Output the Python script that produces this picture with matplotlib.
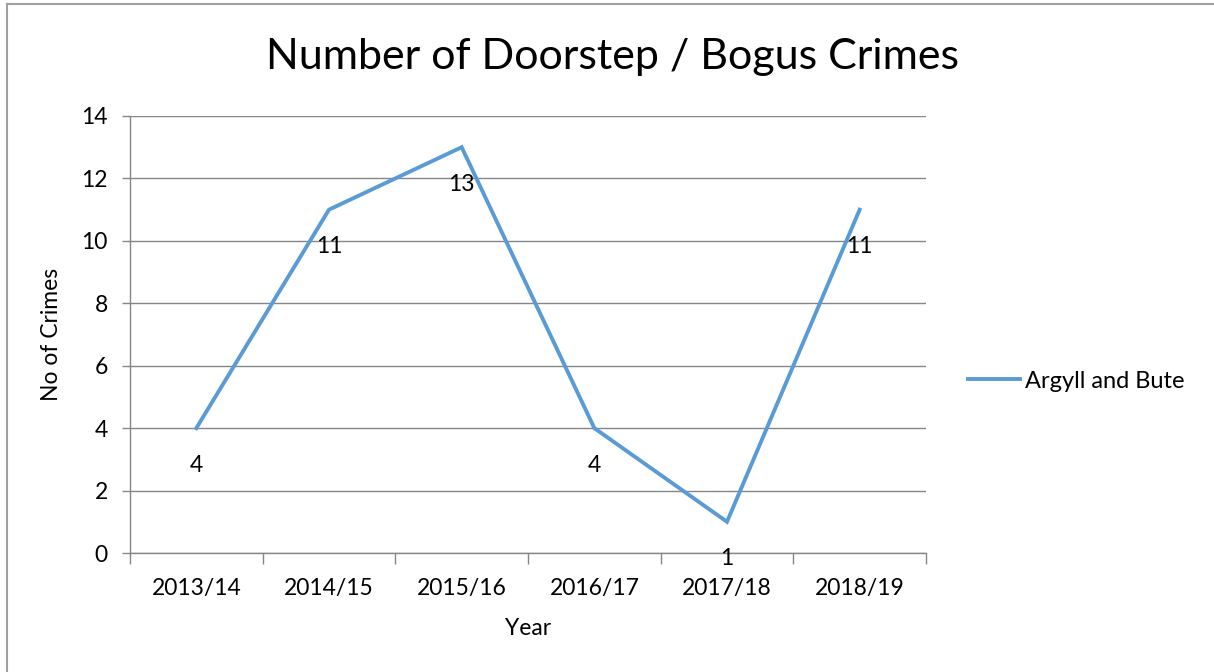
import matplotlib
matplotlib.use("Agg")
import matplotlib.pyplot as plt
from matplotlib.lines import Line2D

plt.rcParams['font.family'] = ['Lato', 'DejaVu Sans']

years = ["2013/14", "2014/15", "2015/16", "2016/17", "2017/18", "2018/19"]
crimes = [4, 11, 13, 4, 1, 11]
series_name = "Argyll and Bute"
title = "Number of Doorstep / Bogus Crimes"
y_ticks = [0, 2, 4, 6, 8, 10, 12, 14]

line_color = "#5B9BD5"
grid_color = "#868686"
fs = 16.5

fig = plt.figure(figsize=(12.14, 6.72), dpi=100)
ax = fig.add_axes([130/1214, 1-553/672, (926-130)/1214, (553-116)/672])

x = list(range(len(years)))
ax.plot(x, crimes, color=line_color, linewidth=2.8, solid_joinstyle='miter', label=series_name)

for xi, v in zip(x, crimes):
    ax.annotate(str(v), (xi, v), xytext=(0, -37), textcoords='offset pixels',
                ha='center', va='center', fontsize=fs, color='black')

ax.set_xlim(-0.5, len(years) - 0.5)
ax.set_ylim(0, 14)
ax.set_yticks(y_ticks)
ax.set_yticklabels([str(t) for t in y_ticks], fontsize=fs)
ax.set_xticks(x)
ax.set_xticklabels(years, fontsize=fs)
ax.set_xticks([i - 0.5 for i in range(len(years) + 1)], minor=True)
ax.tick_params(axis='x', which='major', length=0, pad=18)
ax.tick_params(axis='x', which='minor', length=8, color=grid_color, width=1)
ax.tick_params(axis='y', length=6, color=grid_color, width=1, pad=10)

ax.grid(axis='y', color=grid_color, linewidth=1)
ax.set_axisbelow(True)
for s in ['top', 'right']:
    ax.spines[s].set_visible(False)
for s in ['left', 'bottom']:
    ax.spines[s].set_color(grid_color)
    ax.spines[s].set_linewidth(1)

ax.set_xlabel("Year", fontsize=fs, labelpad=14)
ax.set_ylabel("No of Crimes", fontsize=fs, labelpad=14)

fig.text(612/1214, 1-57/672, title, ha='center', va='center', fontsize=31)

handle = Line2D([0], [0], color=line_color, linewidth=2.8)
fig.legend([handle], [series_name], loc='center left', bbox_to_anchor=(968/1214, 1-381/672),
           frameon=False, fontsize=17, handlelength=2.2, handletextpad=0.2, borderpad=0, borderaxespad=0)

fig.add_artist(Line2D([7/1214, 7/1214], [0, 1-4/672], color='#A0A0A0', linewidth=1.5, transform=fig.transFigure))
fig.add_artist(Line2D([7/1214, 1], [1-4/672, 1-4/672], color='#A0A0A0', linewidth=1.5, transform=fig.transFigure))

fig.savefig("out.png", dpi=100)
